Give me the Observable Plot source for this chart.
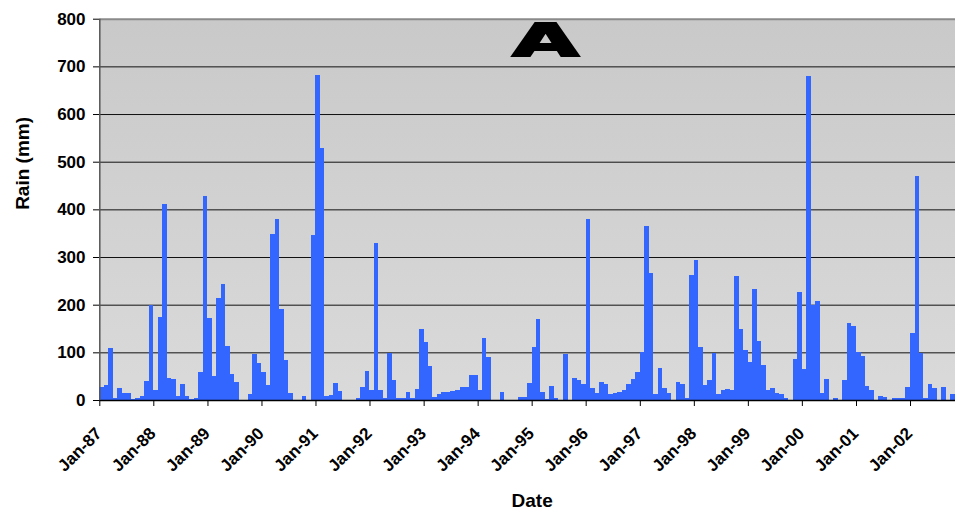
<!DOCTYPE html>
<html><head><meta charset="utf-8">
<script src="https://cdn.jsdelivr.net/npm/d3@7"></script>
<script src="https://cdn.jsdelivr.net/npm/@observablehq/plot@0.6"></script>
<style>html,body{margin:0;padding:0;background:#fff;overflow:hidden}</style>
</head><body><div id="chart"></div>
<script>
// Monthly rain (mm), Jan–Dec per year (2002 visible through Oct)
const rain1987 = [27, 31, 110, 5, 26, 15, 15, 2, 5, 8, 40, 199];
const rain1988 = [22, 174, 412, 47, 45, 8, 33, 8, 3, 5, 59, 428];
const rain1989 = [172, 50, 213, 244, 114, 54, 38, 1, 1, 12, 96, 77];
const rain1990 = [59, 31, 349, 380, 190, 84, 15, 0, 0, 8, 0, 347];
const rain1991 = [682, 528, 8, 10, 35, 18, 0, 0, 0, 5, 27, 60];
const rain1992 = [20, 329, 21, 5, 98, 43, 5, 5, 17, 5, 24, 149];
const rain1993 = [121, 72, 6, 12, 16, 17, 18, 22, 27, 28, 52, 53];
const rain1994 = [22, 130, 91, 1, 1, 17, 0, 1, 1, 6, 6, 36];
const rain1995 = [111, 170, 17, 3, 30, 5, 0, 97, 0, 47, 42, 33];
const rain1996 = [380, 26, 15, 38, 33, 13, 15, 16, 20, 34, 45, 59];
const rain1997 = [100, 365, 267, 12, 68, 26, 15, 1, 38, 33, 5, 263];
const rain1998 = [294, 112, 31, 42, 99, 12, 20, 24, 21, 260, 149, 105];
const rain1999 = [80, 232, 124, 73, 22, 26, 15, 12, 5, 0, 85, 226];
const rain2000 = [66, 680, 200, 207, 15, 45, 0, 5, 0, 42, 162, 155];
const rain2001 = [100, 92, 29, 22, 0, 8, 6, 0, 5, 5, 5, 27];
const rain2002 = [141, 469, 98, 5, 33, 26, 0, 28, 0, 12];

const years = [1987,1988,1989,1990,1991,1992,1993,1994,1995,1996,1997,1998,1999,2000,2001,2002];
const tickLabels = ["Jan-87","Jan-88","Jan-89","Jan-90","Jan-91","Jan-92","Jan-93","Jan-94","Jan-95","Jan-96","Jan-97","Jan-98","Jan-99","Jan-00","Jan-01","Jan-02"];
const yTicks = [0,100,200,300,400,500,600,700,800];
const gridValues = [100,200,300,400,500,600,700];
const titleText = "A";
const yLabel = "Rain (mm)";
const xLabel = "Date";

const series = [rain1987,rain1988,rain1989,rain1990,rain1991,rain1992,rain1993,rain1994,rain1995,rain1996,rain1997,rain1998,rain1999,rain2000,rain2001,rain2002];
const data = [];
series.forEach((arr, yi) => arr.forEach((v, m) => data.push({
  date: new Date(Date.UTC(years[yi], m, 1)),
  next: new Date(Date.UTC(years[yi], m + 1, 1)),
  rain: v
})));
const tickData = years.map((y, i) => ({date: new Date(Date.UTC(y, 0, 1)), label: tickLabels[i]}));
const xStart = tickData[0].date;
const xEnd = data[data.length - 1].next;

const svg = Plot.plot({
  width: 955, height: 509,
  marginLeft: 99.3, marginRight: 0, marginTop: 18.7, marginBottom: 109,
  style: {fontFamily: "'Liberation Sans', Arial, sans-serif", fontSize: "17px", fontWeight: "bold", color: "#000", background: "#fff"},
  x: {type: "utc", domain: [xStart, xEnd], ticks: tickData.map(d => d.date), tickFormat: () => "", tickSize: 6, label: null},
  y: {domain: [0, 800], ticks: yTicks, tickSize: 6.3, tickPadding: 8, label: null, tickFormat: d => String(d)},
  marks: [
    Plot.frame({fill: "url(#plotBg)", stroke: null}),
    Plot.ruleY(gridValues, {stroke: "#111", strokeWidth: 1}),
    Plot.rect(data, {x1: "date", x2: "next", y1: 0, y2: "rain", fill: "#3366ff"}),
    Plot.ruleY([800], {stroke: "#8a8a8a", strokeWidth: 2}),
    Plot.ruleY([0], {stroke: "#000", strokeWidth: 1.5}),
    Plot.ruleX([xStart], {stroke: "#555", strokeWidth: 1.5}),
    Plot.text(tickData, {x: "date", text: "label", frameAnchor: "bottom", rotate: -45, textAnchor: "end", lineAnchor: "bottom", dx: 3, dy: 34, fontSize: 17, fontWeight: "bold", fill: "#000"}),
    Plot.text([yLabel], {frameAnchor: "left", rotate: -90, dx: -77, fontSize: 19, fontWeight: "bold", fill: "#000"}),
    Plot.text([xLabel], {frameAnchor: "bottom", dx: 4.5, dy: 106, lineAnchor: "bottom", fontSize: 19, fontWeight: "bold", fill: "#000"}),
    Plot.text([titleText], {frameAnchor: "top", dx: 18, dy: 5, lineAnchor: "top", fontSize: 45, fontWeight: 900, fontFamily: "DejaVu Sans", fill: "#000", stroke: "#000", strokeWidth: 2, strokeLinejoin: "miter"})
  ]
});

// gradient background for plot area
const defs = d3.select(svg).insert("defs", ":first-child");
const grad = defs.append("linearGradient").attr("id", "plotBg").attr("x1", 0).attr("y1", 0).attr("x2", 0).attr("y2", 1);
grad.append("stop").attr("offset", "0%").attr("stop-color", "#c9c9c9");
grad.append("stop").attr("offset", "100%").attr("stop-color", "#dadada");

// crisp bars
d3.select(svg).selectAll("g[aria-label='rect'] rect").attr("shape-rendering", "crispEdges");

// widen the title letter
d3.select(svg).selectAll("text").filter(function() { return this.textContent === titleText; }).each(function() {
  const el = d3.select(this);
  const cx = +el.attr("x") || 0;
  const t = el.attr("transform") || "";
  el.attr("transform", `${t} translate(${cx},0) scale(1.9,1) translate(${-cx},0)`);
});

document.getElementById("chart").appendChild(svg);
</script>
</body></html>
